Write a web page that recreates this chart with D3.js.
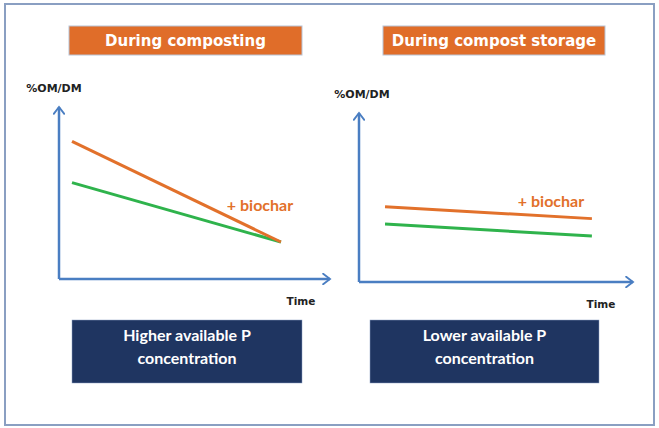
<!DOCTYPE html>
<html>
<head>
<meta charset="utf-8">
<script src="https://cdn.jsdelivr.net/npm/d3@7"></script>
<style>
  body { margin: 0; background: #fff; }
  svg text { font-family: "Lato", "Open Sans", sans-serif; }
</style>
</head>
<body>
<div id="d3-container"></div>
<script>
/**
 * CONSTANTS AND DATA
 * */
const width = 659, height = 428;

const panelTitles = ["During composting", "During compost storage"];
const panelNotes = [["Higher available P", "concentration"], ["Lower available P", "concentration"]];
const yLabel = "%OM/DM", xLabel = "Time", biocharLabel = "+ biochar";

// time (0-10) and %OM/DM (0-10, schematic) per panel
const timeComposting = [0.48, 8.19];
const biocharComposting = [8.0, 2.15];
const controlComposting = [5.6, 2.15];

const timeStorage = [0.95, 8.5];
const biocharStorage = [4.45, 3.75];
const controlStorage = [3.43, 2.72];

const orange = "#e2712b", green = "#2fb34c", blue = "#4a7ec2", navy = "#1f3561";

let svg = d3.select("#d3-container").append("svg")
  .attr("width", width).attr("height", height);

svg.append("defs").append("marker")
  .attr("id", "arrow")
  .attr("viewBox", "0 0 10 10")
  .attr("refX", 8.5).attr("refY", 5)
  .attr("markerWidth", 5).attr("markerHeight", 5)
  .attr("markerUnits", "strokeWidth")
  .attr("orient", "auto")
  .append("path")
  .attr("d", "M3,0.8 L8.5,5 L3,9.2")
  .attr("fill", "none")
  .attr("stroke", blue)
  .attr("stroke-width", 1.5)
  .attr("stroke-linecap", "round")
  .attr("stroke-linejoin", "miter");

// outer frame
svg.append("rect")
  .attr("x", 5).attr("y", 4).attr("width", 649).attr("height", 421)
  .attr("fill", "none").attr("stroke", "#8a9fc2").attr("stroke-width", 2);

const panels = [
  { time: timeComposting, biochar: biocharComposting, control: controlComposting,
    xr: [59, 330], yr: [279, 107], title: [69, 26, 233, 29], note: [72, 320, 230, 63],
    yLab: [54, 88], xLab: [301, 301], bioLab: [260, 204] },
  { time: timeStorage, biochar: biocharStorage, control: controlStorage,
    xr: [359, 633], yr: [282, 113], title: [383, 26, 222, 29], note: [370, 320, 229, 63],
    yLab: [362, 94], xLab: [601, 304], bioLab: [551, 200] }
];

panels.forEach((p, i) => {
  const g = svg.append("g");
  const x = d3.scaleLinear().domain([0, 10]).range(p.xr);
  const y = d3.scaleLinear().domain([0, 10]).range(p.yr);

  // title box
  g.append("rect")
    .attr("x", p.title[0]).attr("y", p.title[1])
    .attr("width", p.title[2]).attr("height", p.title[3])
    .attr("fill", "#e06d29").attr("stroke", "#b8c4d6").attr("stroke-width", 1);
  g.append("text")
    .attr("x", p.title[0] + p.title[2] / 2).attr("y", p.title[1] + p.title[3] / 2)
    .attr("text-anchor", "middle").attr("dominant-baseline", "central")
    .style("font-family", "'DejaVu Sans', sans-serif")
    .attr("font-size", 15).attr("font-weight", "bold").attr("fill", "#fff")
    .text(panelTitles[i]);

  // axes as arrows
  g.append("line")
    .attr("x1", x(0)).attr("y1", y(0)).attr("x2", x(0)).attr("y2", y(10))
    .attr("stroke", blue).attr("stroke-width", 2.5).attr("marker-end", "url(#arrow)");
  g.append("line")
    .attr("x1", x(0)).attr("y1", y(0)).attr("x2", x(10)).attr("y2", y(0))
    .attr("stroke", blue).attr("stroke-width", 2.5).attr("marker-end", "url(#arrow)");

  g.append("text")
    .attr("x", p.yLab[0]).attr("y", p.yLab[1])
    .attr("text-anchor", "middle").attr("dominant-baseline", "central")
    .style("font-family", "'DejaVu Sans', sans-serif")
    .attr("font-size", 11).attr("font-weight", "bold").attr("fill", "#222")
    .text(yLabel);
  g.append("text")
    .attr("x", p.xLab[0]).attr("y", p.xLab[1])
    .attr("text-anchor", "middle").attr("dominant-baseline", "central")
    .style("font-family", "'DejaVu Sans', sans-serif")
    .attr("font-size", 10.5).attr("font-weight", "bold").attr("fill", "#222")
    .text(xLabel);

  const line = d3.line().x(d => x(d[0])).y(d => y(d[1]));
  g.append("path")
    .datum(d3.zip(p.time, p.control))
    .attr("d", line).attr("fill", "none")
    .attr("stroke", green).attr("stroke-width", 3);
  g.append("path")
    .datum(d3.zip(p.time, p.biochar))
    .attr("d", line).attr("fill", "none")
    .attr("stroke", orange).attr("stroke-width", 3);

  g.append("text")
    .attr("x", p.bioLab[0]).attr("y", p.bioLab[1])
    .attr("text-anchor", "middle").attr("dominant-baseline", "central")
    .attr("font-size", 16).attr("font-weight", "bold").attr("fill", orange)
    .text(biocharLabel);

  // note box
  g.append("rect")
    .attr("x", p.note[0]).attr("y", p.note[1])
    .attr("width", p.note[2]).attr("height", p.note[3])
    .attr("fill", navy).attr("stroke", "#8a9fc2").attr("stroke-width", 0.5);
  g.selectAll("text.note")
    .data(panelNotes[i])
    .join("text")
    .attr("class", "note")
    .attr("x", p.note[0] + p.note[2] / 2)
    .attr("y", (d, j) => p.note[1] + 14 + j * 23)
    .attr("text-anchor", "middle").attr("dominant-baseline", "central")
    .attr("font-size", 16).attr("font-weight", "bold").attr("fill", "#fff")
    .text(d => d);
});
</script>
</body>
</html>
